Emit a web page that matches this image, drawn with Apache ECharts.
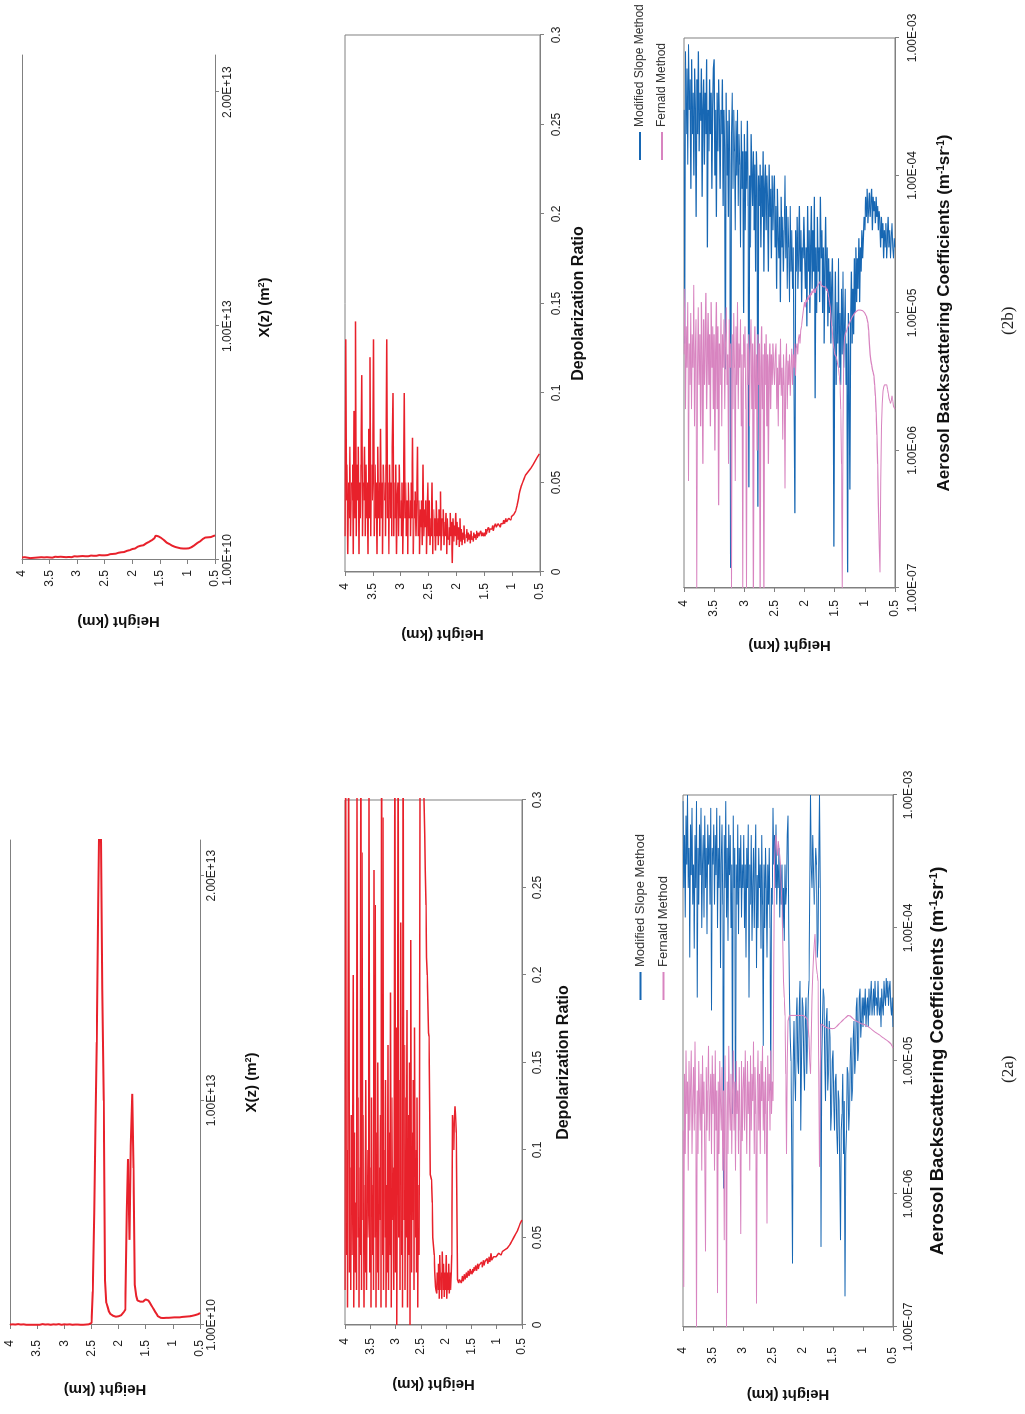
<!DOCTYPE html>
<html><head><meta charset="utf-8">
<script src="https://cdn.jsdelivr.net/npm/echarts/dist/echarts.min.js"></script>
<style>
html,body{margin:0;padding:0;background:#fff;overflow:hidden;width:1025px;height:1414px;}
#wrap{position:absolute;left:0;top:0;width:1414px;height:1025px;transform-origin:0 0;transform:translateY(1414px) rotate(-90deg);}
#chart{width:1414px;height:1025px;}
</style></head><body>
<div id="wrap"><div id="chart"></div></div>
<script>
// Heights (km) for the smooth X(z) profiles
const heights = [4,3.975,3.95,3.925,3.9,3.875,3.85,3.825,3.8,3.775,3.75,3.725,3.7,3.675,3.65,3.625,3.6,3.575,3.55,3.525,
3.5,3.475,3.45,3.425,3.4,3.375,3.35,3.325,3.3,3.275,3.25,3.225,3.2,3.175,3.15,3.125,3.1,3.075,3.05,3.025,
3,2.975,2.95,2.925,2.9,2.875,2.85,2.825,2.8,2.775,2.75,2.725,2.7,2.675,2.65,2.625,2.6,2.575,2.55,2.525,
2.5,2.475,2.45,2.425,2.4,2.375,2.35,2.325,2.3,2.275,2.25,2.225,2.2,2.175,2.15,2.125,2.1,2.075,2.05,2.025,
2,1.975,1.95,1.925,1.9,1.875,1.85,1.825,1.8,1.775,1.75,1.725,1.7,1.675,1.65,1.625,1.6,1.575,1.55,1.525,
1.5,1.475,1.45,1.425,1.4,1.375,1.35,1.325,1.3,1.275,1.25,1.225,1.2,1.175,1.15,1.125,1.1,1.075,1.05,1.025,
1,0.975,0.95,0.925,0.9,0.875,0.85,0.825,0.8,0.775,0.75,0.725,0.7,0.675,0.65,0.625,0.6,0.575,0.55,0.525,0.5];

// Heights (km) for the noisy profiles (depolarization, backscatter)
const heightsFine = [4,3.9875,3.975,3.9625,3.95,3.9375,3.925,3.9125,3.9,3.8875,3.875,3.8625,3.85,3.8375,3.825,3.8125,3.8,3.7875,3.775,3.7625,3.75,3.7375,3.725,3.7125,3.7,3.6875,3.675,3.6625,3.65,3.6375,3.625,3.6125,3.6,3.5875,3.575,3.5625,3.55,3.5375,3.525,3.5125,
3.5,3.4875,3.475,3.4625,3.45,3.4375,3.425,3.4125,3.4,3.3875,3.375,3.3625,3.35,3.3375,3.325,3.3125,3.3,3.2875,3.275,3.2625,3.25,3.2375,3.225,3.2125,3.2,3.1875,3.175,3.1625,3.15,3.1375,3.125,3.1125,3.1,3.0875,3.075,3.0625,3.05,3.0375,3.025,3.0125,
3,2.9875,2.975,2.9625,2.95,2.9375,2.925,2.9125,2.9,2.8875,2.875,2.8625,2.85,2.8375,2.825,2.8125,2.8,2.7875,2.775,2.7625,2.75,2.7375,2.725,2.7125,2.7,2.6875,2.675,2.6625,2.65,2.6375,2.625,2.6125,2.6,2.5875,2.575,2.5625,2.55,2.5375,2.525,2.5125,
2.5,2.4875,2.475,2.4625,2.45,2.4375,2.425,2.4125,2.4,2.3875,2.375,2.3625,2.35,2.3375,2.325,2.3125,2.3,2.2875,2.275,2.2625,2.25,2.2375,2.225,2.2125,2.2,2.1875,2.175,2.1625,2.15,2.1375,2.125,2.1125,2.1,2.0875,2.075,2.0625,2.05,2.0375,2.025,2.0125,
2,1.9875,1.975,1.9625,1.95,1.9375,1.925,1.9125,1.9,1.8875,1.875,1.8625,1.85,1.8375,1.825,1.8125,1.8,1.7875,1.775,1.7625,1.75,1.7375,1.725,1.7125,1.7,1.6875,1.675,1.6625,1.65,1.6375,1.625,1.6125,1.6,1.5875,1.575,1.5625,1.55,1.5375,1.525,1.5125,
1.5,1.4875,1.475,1.4625,1.45,1.4375,1.425,1.4125,1.4,1.3875,1.375,1.3625,1.35,1.3375,1.325,1.3125,1.3,1.2875,1.275,1.2625,1.25,1.2375,1.225,1.2125,1.2,1.1875,1.175,1.1625,1.15,1.1375,1.125,1.1125,1.1,1.0875,1.075,1.0625,1.05,1.0375,1.025,1.0125,
1,0.9875,0.975,0.9625,0.95,0.9375,0.925,0.9125,0.9,0.8875,0.875,0.8625,0.85,0.8375,0.825,0.8125,0.8,0.7875,0.775,0.7625,0.75,0.7375,0.725,0.7125,0.7,0.6875,0.675,0.6625,0.65,0.6375,0.625,0.6125,0.6,0.5875,0.575,0.5625,0.55,0.5375,0.525,0.5125,0.5];

// (2a) X(z) (m^2)
const xz2a = [3e10,2e10,4e10,2e10,3e10,2e10,5e10,2e10,3e10,2e10,4e10,3e10,2e10,3e10,2e10,4e10,2e10,3e10,2e10,3e10,
2e10,4e10,2e10,3e10,5e10,2e10,3e10,2e10,4e10,3e10,2e10,3e10,4e10,2e10,3e10,2e10,5e10,3e10,2e10,3e10,
4e10,2e10,3e10,2e10,4e10,3e10,2e10,5e10,3e10,2e10,3e10,4e10,2e10,3e10,2e10,4e10,3e10,5e10,4e10,6e10,
1e11,1.5e12,5e12,9e12,1.26e13,1.9e13,2.4e13,2.2e13,1.5e13,1.0e13,2e12,1.0e12,8e11,6e11,5e11,4.5e11,4.2e11,4e11,3.8e11,4e11,
4e11,4e11,4.5e11,5e11,6e11,7e11,5e12,7.4e12,3.8e12,8e12,1.03e13,7e12,1.8e12,1.3e12,1.1e12,1.05e12,1.05e12,1e12,1.05e12,1.1e12,
1.15e12,1.2e12,1.1e12,1e12,9e11,8e11,7e11,6e11,5e11,4e11,3.5e11,3.3e11,3.3e11,3.2e11,3.3e11,3.3e11,3.4e11,3.3e11,3.4e11,3.4e11,
3.4e11,3.5e11,3.4e11,3.5e11,3.6e11,3.5e11,3.6e11,3.7e11,3.6e11,3.8e11,3.8e11,3.9e11,4e11,4e11,4.2e11,4.3e11,4.5e11,4.6e11,4.8e11,5e11,5.5e11];

// (2b) X(z) (m^2)
const xz2b = [1.2e11,8e10,1.3e11,9e10,1.1e11,1.4e11,9e10,1.2e11,1e11,1.3e11,1.1e11,9e10,1.2e11,1e11,1.3e11,1.1e11,1.2e11,1e11,1.3e11,1.1e11,
1.2e11,1.4e11,1.1e11,1.3e11,1.5e11,1.2e11,1.4e11,1.3e11,1.5e11,1.2e11,1.4e11,1.6e11,1.3e11,1.5e11,1.4e11,1.6e11,1.3e11,1.5e11,1.7e11,1.5e11,
1.6e11,1.5e11,1.7e11,1.6e11,1.8e11,1.6e11,1.7e11,1.9e11,1.7e11,1.8e11,2e11,1.8e11,1.9e11,2.1e11,1.9e11,2e11,2.2e11,2e11,2.1e11,2.2e11,
2.1e11,2.3e11,2.2e11,2.5e11,2.6e11,2.5e11,2.7e11,2.9e11,2.8e11,3e11,3.2e11,3.1e11,3.4e11,3.6e11,3.5e11,3.8e11,4e11,4.1e11,4.3e11,4.6e11,
4.8e11,5.2e11,5e11,5.5e11,5.8e11,5.7e11,6.2e11,6.5e11,6.4e11,7e11,7.2e11,7.6e11,7.8e11,8.3e11,8.5e11,9e11,9.4e11,1.05e12,1.12e12,1.02e12,
9.8e11,9.5e11,9.2e11,8.6e11,8e11,7.5e11,7.2e11,6.9e11,6.6e11,6.2e11,6e11,5.7e11,5.5e11,5.4e11,5.2e11,5.1e11,5e11,5e11,5e11,5e11,
5e11,5.1e11,5.3e11,5.6e11,6e11,6.4e11,6.8e11,7.3e11,7.6e11,8e11,8.5e11,9e11,9.5e11,9.7e11,9.6e11,9.8e11,9.9e11,9.9e11,1.02e12,1.04e12,1.06e12];

// (2a) depolarization ratio (heightsFine)
const depol2a = [0.02,0.34,0.04,0.1,0.01,0.22,0.34,0.03,0.09,0.02,0.12,0.04,0.08,0.2,0.01,0.11,0.03,0.07,0.02,0.34,0.05,0.13,0.01,0.09,0.04,0.34,0.02,0.27,0.06,0.12,0.01,0.08,0.03,0.14,0.02,0.1,0.05,0.07,0.34,0.03,
0.09,0.01,0.13,0.04,0.08,0.02,0.26,0.05,0.24,0.01,0.11,0.03,0.15,0.02,0.09,0.06,0.12,0.01,0.34,0.04,0.29,0.02,0.1,0.05,0.14,0.01,0.08,0.03,0.16,0.02,0.11,0.04,0.19,0.01,0.13,0.06,0.09,0.02,0.12,0.34,
0.03,0.17,0.0,0.12,0.34,0.05,0.14,0.02,0.23,0.04,0.1,0.01,0.34,0.06,0.16,0.02,0.13,0.05,0.18,0.01,0.12,0.04,0.15,0.0,0.22,0.03,0.11,0.06,0.14,0.02,0.17,0.05,0.1,0.03,0.13,0.01,0.08,0.04,0.12,0.34,
0.34,0.34,0.34,0.34,0.32,0.3,0.28,0.26,0.24,0.21,0.2,0.2,0.167,0.165,0.12,0.086,0.085,0.083,0.07,0.05,0.045,0.04,0.03,0.022,0.02,0.018,0.03,0.02,0.035,0.015,0.04,0.02,0.03,0.015,0.042,0.02,0.035,0.016,0.03,0.02,
0.04,0.015,0.03,0.02,0.035,0.018,0.03,0.02,0.03,0.04,0.12,0.115,0.1,0.115,0.125,0.12,0.11,0.06,0.026,0.025,0.024,0.026,0.025,0.027,0.024,0.026,0.028,0.025,0.027,0.029,0.026,0.028,0.03,0.027,0.029,0.031,0.028,0.03,0.032,0.029,
0.031,0.029,0.032,0.03,0.033,0.031,0.032,0.034,0.031,0.033,0.035,0.032,0.034,0.033,0.035,0.034,0.036,0.033,0.035,0.037,0.034,0.036,0.035,0.037,0.036,0.038,0.035,0.037,0.039,0.036,0.038,0.041,0.037,0.038,0.037,0.039,0.038,0.04,0.038,0.039,
0.039,0.04,0.039,0.041,0.04,0.04,0.041,0.04,0.041,0.042,0.041,0.042,0.042,0.043,0.042,0.043,0.043,0.044,0.044,0.045,0.045,0.046,0.046,0.047,0.048,0.048,0.049,0.05,0.05,0.051,0.052,0.053,0.053,0.054,0.055,0.056,0.057,0.058,0.058,0.059,0.06];

// (2b) depolarization ratio (heightsFine)
const depol2b = [0.02,0.13,0.04,0.06,0.01,0.05,0.03,0.07,0.02,0.05,0.04,0.06,0.01,0.09,0.03,0.14,0.02,0.06,0.04,0.07,0.01,0.05,0.03,0.06,0.11,0.02,0.05,0.04,0.07,0.02,0.06,0.03,0.05,0.01,0.08,0.03,0.12,0.02,0.06,0.04,
0.05,0.13,0.02,0.06,0.03,0.05,0.01,0.07,0.03,0.05,0.02,0.08,0.03,0.05,0.01,0.06,0.04,0.05,0.02,0.06,0.13,0.03,0.05,0.01,0.06,0.03,0.05,0.02,0.07,0.1,0.02,0.05,0.03,0.06,0.01,0.04,0.05,0.02,0.06,0.03,
0.04,0.02,0.05,0.01,0.04,0.1,0.03,0.05,0.02,0.04,0.01,0.05,0.03,0.04,0.02,0.05,0.03,0.075,0.01,0.04,0.03,0.045,0.02,0.04,0.07,0.02,0.04,0.01,0.035,0.025,0.04,0.015,0.06,0.02,0.035,0.025,0.04,0.01,0.035,0.05,
0.02,0.04,0.015,0.03,0.02,0.05,0.01,0.035,0.02,0.03,0.012,0.04,0.02,0.03,0.015,0.035,0.02,0.045,0.012,0.03,0.02,0.035,0.015,0.028,0.02,0.033,0.01,0.03,0.018,0.025,0.015,0.033,0.02,0.028,0.005,0.03,0.017,0.026,0.02,0.033,
0.015,0.028,0.018,0.025,0.014,0.03,0.017,0.024,0.015,0.022,0.018,0.026,0.016,0.021,0.019,0.024,0.017,0.022,0.018,0.021,0.016,0.023,0.018,0.02,0.017,0.022,0.019,0.021,0.018,0.023,0.019,0.022,0.02,0.021,0.019,0.023,0.02,0.022,0.021,0.02,
0.022,0.02,0.024,0.021,0.023,0.022,0.025,0.022,0.024,0.023,0.025,0.024,0.026,0.023,0.025,0.024,0.027,0.025,0.026,0.025,0.027,0.026,0.028,0.025,0.027,0.026,0.028,0.027,0.029,0.027,0.028,0.03,0.028,0.029,0.028,0.03,0.029,0.03,0.029,0.031,
0.031,0.031,0.032,0.032,0.033,0.034,0.035,0.037,0.039,0.041,0.043,0.045,0.046,0.048,0.049,0.05,0.051,0.052,0.053,0.054,0.054,0.055,0.055,0.056,0.056,0.057,0.057,0.058,0.058,0.059,0.06,0.06,0.061,0.062,0.062,0.063,0.064,0.064,0.065,0.066,0.066];

// (2a) aerosol backscattering coefficients, m^-1 sr^-1 (heightsFine)
const slope2a = [9e-4,2e-4,5e-4,1.2e-4,7e-4,3e-4,1e-3,2e-4,4e-4,6e-5,6e-4,2.5e-4,8e-4,1.5e-4,3e-4,7e-5,5e-4,2e-4,9e-4,3e-5,4e-4,1.5e-4,6e-4,2.5e-4,8e-4,1e-4,3e-4,5e-4,1.2e-4,7e-4,2e-4,4e-4,9e-5,6e-4,3e-4,5e-4,1.5e-4,8e-4,2.4e-5,4e-4,
3e-4,6e-4,1.5e-4,5e-4,2.5e-4,8e-4,1e-4,4e-4,2e-4,7e-4,5e-5,3e-4,6e-4,1.5e-4,1.1e-6,5e-4,2e-4,9e-4,1.2e-4,4e-4,8e-5,6e-4,2.5e-4,5e-4,1e-4,3e-4,4e-6,7e-4,2e-4,4e-4,2.1e-6,3e-4,1.5e-4,6e-4,9e-5,4e-4,2e-4,5e-4,1.2e-4,3e-4,
2e-4,5e-4,1e-4,3e-4,6e-5,4e-4,2e-4,6e-4,3e-5,3e-4,1.5e-4,5e-4,8e-5,2e-4,4e-4,1e-4,3e-4,6e-4,5e-5,2.5e-4,1e-4,4e-4,2e-4,3e-4,7e-5,5e-4,1.5e-4,1.3e-5,3e-4,1e-4,4e-4,2e-4,6e-5,3e-4,1.5e-4,4e-4,1e-4,6e-6,2e-4,1.5e-4,
8e-4,3e-4,5e-4,2e-4,6e-4,1.5e-4,3e-4,2e-4,4e-4,1.2e-4,3e-4,1.5e-4,3e-4,1e-4,2e-4,8e-5,3e-4,1.5e-4,2e-4,5e-4,7e-4,1e-4,3e-5,1.5e-5,1e-5,2e-6,3e-7,1e-5,2e-5,8e-6,5e-6,2e-5,3e-5,1e-5,8e-6,2.5e-5,4e-5,3e-6,1e-5,3e-5,
2.5e-5,1e-5,6e-6,2e-5,3e-5,8e-6,1.2e-5,3e-5,4e-5,2e-4,1e-3,3e-4,2e-4,5e-4,5e-4,1.5e-4,1.5e-4,4e-4,3e-4,6e-5,8e-5,3e-4,1e-3,2e-4,4e-7,1e-5,2e-5,3.5e-5,3e-5,1e-5,5e-6,2e-5,2.5e-5,6e-6,8e-6,2e-5,1.5e-5,3e-6,4e-6,1e-5,
1.2e-5,5e-6,3e-6,7e-6,8e-6,3e-6,2e-6,6e-6,5e-6,1.5e-6,4.5e-7,3e-6,4e-6,8e-6,2e-6,5e-6,1.7e-7,2e-6,3e-6,9e-6,8e-6,3e-6,4e-6,1e-5,1.5e-5,5e-6,6e-6,1.5e-5,2e-5,8e-6,1e-5,2.5e-5,3e-5,1e-5,1.2e-5,3e-5,3.5e-5,1.5e-5,2e-5,3e-5,
1.8e-5,3e-5,2.2e-5,3.5e-5,1.8e-5,2.6e-5,3e-5,1.8e-5,3.5e-5,2.2e-5,3e-5,4e-5,2.2e-5,2.6e-5,3.5e-5,2.2e-5,4e-5,2.6e-5,3e-5,2.2e-5,4e-5,2.6e-5,2.2e-5,3e-5,1.8e-5,3.5e-5,2.6e-5,2.2e-5,4e-5,3e-5,2.6e-5,4.2e-5,3e-5,4e-5,2.6e-5,3.5e-5,4e-5,2.6e-5,2.2e-5,3e-5,1.8e-5];
const fernald2a = [3e-6,2e-7,8e-6,2e-6,1.2e-5,4e-6,7e-6,1.5e-6,1e-5,3e-6,6e-6,1.2e-5,2e-6,5e-6,9e-6,3e-6,1.4e-5,4e-6,1e-7,6e-6,2e-6,1e-5,5e-6,3e-6,8e-6,1.5e-6,1.1e-5,4e-6,7e-6,2e-6,3.7e-7,9e-6,3e-6,6e-6,1.3e-5,2.5e-6,5e-6,8e-6,2e-6,1.1e-5,
4e-6,8e-6,1.5e-6,1.2e-5,3e-6,6e-6,1.8e-7,7e-6,2e-6,1e-5,5e-6,3e-6,9e-6,1.5e-6,6e-6,4.5e-7,1.1e-5,4e-6,1e-7,7e-6,2e-6,1.3e-5,5e-6,3e-6,8e-6,2e-6,6e-6,1.2e-5,3e-6,7e-6,1.5e-6,1e-5,4e-6,6e-6,2e-6,9e-6,3e-6,5e-7,1e-5,2.5e-6,
6e-6,9e-6,3e-6,1.2e-5,5e-6,2e-6,1e-5,4e-6,7e-6,1.5e-6,1.1e-5,3e-6,8e-6,5e-6,1.4e-5,2e-6,9e-6,4e-6,1.5e-7,6e-6,1.2e-5,3e-6,8e-6,2e-6,1e-5,5e-6,1.3e-5,3e-6,7e-6,2e-6,9e-6,4e-6,6e-7,1.1e-5,5e-6,8e-6,3e-6,1.2e-5,4e-6,7e-6,
5e-6,5e-5,3e-4,4.5e-4,5e-4,4e-4,3.5e-4,4.5e-4,4e-4,3.5e-4,3e-4,2e-4,1.5e-4,8e-5,4e-5,3e-5,2.2e-5,8e-6,2e-6,1e-5,2e-5,2.1e-5,2.2e-5,2.2e-5,2.2e-5,2.2e-5,2.2e-5,2.2e-5,2.2e-5,2.2e-5,2.2e-5,2.2e-5,2.2e-5,2.2e-5,2.2e-5,2.2e-5,2.2e-5,2.2e-5,2.2e-5,2.2e-5,
2.2e-5,2.2e-5,2.2e-5,2.15e-5,2.1e-5,2.1e-5,2.05e-5,2e-5,1.5e-5,1e-5,8e-6,1.5e-5,3e-5,4.5e-5,6e-5,7.5e-5,9e-5,6e-5,5e-5,4.5e-5,4e-5,8e-6,1.6e-6,8e-6,1.9e-5,1.9e-5,1.85e-5,1.85e-5,1.8e-5,1.8e-5,1.8e-5,1.78e-5,1.78e-5,1.77e-5,1.77e-5,1.76e-5,1.76e-5,1.75e-5,1.75e-5,1.75e-5,
1.75e-5,1.75e-5,1.76e-5,1.78e-5,1.8e-5,1.82e-5,1.85e-5,1.87e-5,1.9e-5,1.92e-5,1.95e-5,1.97e-5,2e-5,2.02e-5,2.05e-5,2.08e-5,2.1e-5,2.12e-5,2.15e-5,2.18e-5,2.2e-5,2.2e-5,2.2e-5,2.18e-5,2.15e-5,2.12e-5,2.1e-5,2.08e-5,2.05e-5,2.03e-5,2e-5,2e-5,1.98e-5,1.97e-5,1.95e-5,1.95e-5,1.93e-5,1.92e-5,1.9e-5,1.9e-5,
1.9e-5,1.89e-5,1.88e-5,1.86e-5,1.85e-5,1.84e-5,1.82e-5,1.81e-5,1.8e-5,1.78e-5,1.76e-5,1.74e-5,1.72e-5,1.7e-5,1.68e-5,1.67e-5,1.65e-5,1.64e-5,1.62e-5,1.61e-5,1.6e-5,1.58e-5,1.57e-5,1.55e-5,1.54e-5,1.52e-5,1.5e-5,1.49e-5,1.48e-5,1.46e-5,1.45e-5,1.44e-5,1.42e-5,1.41e-5,1.4e-5,1.38e-5,1.37e-5,1.35e-5,1.32e-5,1.29e-5,1.25e-5];

// (2b) aerosol backscattering coefficients, m^-1 sr^-1 (heightsFine)
const slope2b = [3e-4,6e-6,8e-4,2e-4,6e-4,1.2e-4,9e-4,3e-4,5e-4,8e-5,7e-4,2e-4,4e-4,1e-4,6e-4,3e-4,5e-5,5e-4,2e-4,8e-4,1.5e-4,4e-4,2.5e-4,6e-4,7e-5,3e-4,5e-4,1.2e-4,4e-4,2e-4,7e-4,3e-5,3e-4,1.5e-4,5e-4,2e-4,4e-4,8e-5,3e-4,6e-4,
7e-4,1e-4,3e-4,5e-5,4e-4,1.5e-4,5e-4,2.5e-4,8e-5,3e-4,2e-4,5e-4,6e-5,3e-4,1.5e-4,3.9e-6,4e-4,1e-4,2.5e-4,5e-5,3e-4,1.2e-4,1.4e-7,2e-4,4e-4,8e-5,3e-4,1.5e-4,4e-5,2.5e-4,1e-4,3e-4,6e-5,2e-4,1.2e-4,3e-5,2.5e-4,8e-5,1.5e-4,1e-5,
2e-4,4e-5,1.5e-4,8e-5,2.5e-4,6e-5,5.4e-7,1e-4,3e-5,2e-4,1e-4,6e-5,1.5e-4,4e-5,1.2e-4,2e-5,1.5e-4,8e-5,3.9e-7,1e-4,6e-5,1.2e-4,3e-5,1e-4,5e-5,1.5e-4,2e-5,8e-5,1.2e-4,4e-5,1e-4,6e-5,2e-5,1.2e-4,5e-5,8e-5,2.5e-5,1e-4,4e-5,7e-5,
1e-4,3e-5,6e-5,1.5e-5,8e-5,4e-5,2.5e-5,5e-5,1.2e-5,7e-5,3e-5,5e-5,2e-5,4e-5,1e-4,2.5e-5,6e-5,1.5e-5,5e-5,3e-5,1.2e-5,6e-5,2e-5,4e-5,1.5e-5,3e-5,2.7e-6,3.5e-7,4e-5,2e-5,5e-5,1.5e-5,3e-5,6e-5,2e-5,4e-5,1.2e-5,3e-5,2.5e-5,5e-5,
5e-5,1.5e-5,3e-5,8e-6,6e-5,2e-5,4e-5,1e-5,3e-5,6e-5,1.5e-5,4e-5,2e-5,7e-5,2.4e-6,3e-5,1e-5,5e-5,2e-5,3e-5,1.2e-5,7e-5,2.5e-5,4e-5,1e-5,3e-5,6e-6,2e-5,5e-5,1.5e-5,3e-5,8e-6,2.5e-5,1e-5,2e-5,6e-6,1.5e-5,2.5e-5,8e-6,2e-7,
5e-6,2e-5,3e-6,1.2e-5,6e-6,2.5e-5,4e-6,1e-5,3e-6,1.5e-5,5e-6,2e-5,4e-6,8e-6,1.5e-5,3e-6,6e-6,1.3e-7,1e-5,4e-6,5.2e-7,8e-6,2e-5,6e-6,1.5e-5,7e-6,2.5e-5,1e-5,3e-5,1.2e-5,2.5e-5,1.5e-5,3.5e-5,1.2e-5,3e-5,2e-5,4e-5,2.5e-5,3.5e-5,5e-5,
4e-5,7e-5,5e-5,8e-5,4.5e-5,6e-5,7.5e-5,5e-5,6.5e-5,8e-5,4e-5,7e-5,5.5e-5,6.5e-5,4.5e-5,7e-5,5e-5,6e-5,4e-5,5.5e-5,4.5e-5,3e-5,5e-5,3.5e-5,4.5e-5,2.5e-5,4e-5,3e-5,4.5e-5,2.5e-5,3.5e-5,5e-5,3e-5,4e-5,2.5e-5,3.5e-5,4.5e-5,3e-5,2.5e-5,3.5e-5,3e-5];
const fernald2b = [5e-6,1.5e-5,2e-6,8e-6,4e-6,1.2e-5,6e-7,6e-6,3e-6,1e-5,2e-6,7e-6,4e-6,1.6e-5,1.5e-6,5e-6,9e-6,1e-7,4e-6,1.1e-5,3e-6,7e-6,1.5e-6,1.2e-5,4e-6,8e-7,9e-6,3e-6,6e-6,1.4e-5,2e-6,5e-6,1e-5,3e-6,7e-6,1.5e-6,1.2e-5,4e-6,8e-6,2e-6,
7e-6,1e-6,5e-6,1.2e-5,2e-6,8e-6,4e-7,6e-6,3e-6,1e-5,1.5e-6,7e-6,4e-6,9e-6,2e-6,6e-6,1.1e-5,3e-6,5e-6,8e-7,9e-6,4e-6,6e-6,1e-7,7e-6,2e-6,1e-5,4e-6,6e-7,8e-6,3e-6,1.2e-5,2e-6,6e-6,4e-6,9e-6,1.5e-6,5e-6,1e-7,7e-6,
4e-6,8e-6,2e-6,1e-7,6e-6,3e-6,7e-6,1.5e-6,5e-6,9e-6,2e-6,6e-6,1e-7,4e-6,8e-6,2e-6,5e-6,1e-6,7e-6,3e-6,6e-6,1e-7,4e-6,8e-6,2e-6,5e-6,1e-7,6e-6,3e-6,7e-6,1.5e-6,5e-6,8e-7,4e-6,6e-6,2e-6,5e-6,3e-6,6e-6,4e-6,
3e-6,5e-6,6e-6,2e-6,4e-6,1.5e-6,5e-6,3e-6,6.5e-6,2.5e-6,4e-6,1.2e-6,5e-6,3e-6,5.3e-7,4e-6,6e-6,2e-6,4.5e-6,3e-6,5e-6,2.5e-6,4e-6,5.5e-6,3e-6,5e-6,4e-6,6e-6,3.5e-6,5.5e-6,6e-6,5e-6,6.5e-6,7e-6,6e-6,7.5e-6,8e-6,9e-6,1e-5,1.1e-5,
1.2e-5,1.1e-5,1.25e-5,1.2e-5,1.3e-5,1.25e-5,1.35e-5,1.3e-5,1.4e-5,1.35e-5,1.45e-5,1.4e-5,1.5e-5,1.45e-5,1.4e-5,1.5e-5,1.55e-5,1.5e-5,1.6e-5,1.55e-5,1.65e-5,1.7e-5,1.6e-5,1.65e-5,1.6e-5,1.55e-5,1.6e-5,1.5e-5,1.55e-5,1.45e-5,1.5e-5,1.4e-5,1.3e-5,1.2e-5,1.1e-5,9e-6,8e-6,7e-6,6e-6,5.5e-6,
5e-6,5e-6,4.8e-6,4.5e-6,4.2e-6,4e-6,3.5e-6,3e-6,2e-6,8e-7,1e-7,1.5e-6,5e-6,6.6e-6,7e-6,7.2e-6,7.5e-6,7.8e-6,8e-6,8.3e-6,8.5e-6,8.8e-6,9e-6,9.3e-6,9.5e-6,9.7e-6,1e-5,1e-5,1.02e-5,1.03e-5,1.04e-5,1.05e-5,1.05e-5,1.05e-5,1.05e-5,1.05e-5,1.04e-5,1.04e-5,1.03e-5,1.02e-5,
1e-5,9.8e-6,9.5e-6,9e-6,8.5e-6,7.5e-6,6e-6,5e-6,4.5e-6,4.2e-6,3.9e-6,3.7e-6,3.5e-6,3e-6,2.5e-6,1.9e-6,1.3e-6,8e-7,4e-7,2e-7,1.3e-7,6e-7,1.5e-6,2.2e-6,2.7e-6,2.9e-6,3e-6,3.1e-6,3.1e-6,3e-6,2.8e-6,2.6e-6,2.4e-6,2.3e-6,2.2e-6,2.3e-6,2.5e-6,2.3e-6,2.1e-6,2.05e-6,2e-6];

const seriesNames = ['Modified Slope Method', 'Fernald Method'];
const captions = ['(2a)', '(2b)'];

const FONT = '"Liberation Sans", Arial, Helvetica, sans-serif';
const SERIF = '"Liberation Serif", "Times New Roman", serif';
const AX = '#808080';
const RED = '#e8212b', BLUE = '#1767b3', PINK = '#d884c0';

function fmtE(v) {
  const s = Number(v).toExponential(2).split('e');
  return s[0] + 'E' + s[1][0] + s[1].slice(1).padStart(2, '0');
}
function pairs(vals, hs) { return vals.map((v, i) => [v, hs[i]]); }

// panel layout in the un-rotated (landscape) figure frame
const panels = [
  {grid:{left:89, top:10, width:485, height:190}, box:false, kind:'xz', yGap:57, yMargin:15, xGap:44, xMargin:6, xNameSize:15},
  {grid:{left:89, top:345, width:525, height:177}, box:true, kind:'dep', yGap:52, yMargin:13, xGap:34, xMargin:10, xNameSize:16},
  {grid:{left:87, top:683, width:532, height:210}, box:true, kind:'bs', yGap:60, yMargin:20, xGap:35, xMargin:10, xNameSize:18.5},
  {grid:{left:854, top:22, width:505, height:193}, box:false, kind:'xz', yGap:54, yMargin:10, xGap:42, xMargin:7, xNameSize:15},
  {grid:{left:842, top:345, width:537, height:195}, box:true, kind:'dep', yGap:55, yMargin:11, xGap:31, xMargin:11, xNameSize:16},
  {grid:{left:826, top:684, width:550, height:211}, box:true, kind:'bs', yGap:50, yMargin:12, xGap:41, xMargin:12, xNameSize:17}
];

const grids = [], xAxes = [], yAxes = [], series = [];
panels.forEach((p, g) => {
  grids.push(Object.assign({show:p.box, borderColor:AX, borderWidth:1, containLabel:false, outerBoundsMode:'none'}, p.grid));
  const ax = {
    gridIndex:g, position:'bottom', nameLocation:'middle', nameGap:p.xGap,
    axisLine:{show:true, onZero:false, lineStyle:{color:AX, width:1}},
    axisTick:{show:true, length:4, lineStyle:{color:AX}},
    axisLabel:{fontFamily:FONT, fontSize:12, color:'#222', margin:p.xMargin},
    splitLine:{show:false}
  };
  const sz = p.xNameSize;
  const rich = {a:{fontFamily:FONT, fontWeight:'bold', fontSize:sz, color:'#111'},
                s:{fontFamily:FONT, fontWeight:'bold', fontSize:Math.round(sz*0.6), color:'#111', verticalAlign:'top'}};
  if (p.kind === 'xz') {
    Object.assign(ax, {type:'value', min:1e10, max:2.16e13, interval:1e13,
      name:'{a|X(z) (m}{s|2}{a|)}', nameTextStyle:{rich}});
    ax.axisLabel.formatter = fmtE; ax.axisLabel.showMaxLabel = false;
  } else if (p.kind === 'dep') {
    Object.assign(ax, {type:'value', min:0, max:0.3, interval:0.05,
      name:'{a|Depolarization Ratio}', nameTextStyle:{rich}});
  } else {
    Object.assign(ax, {type:'log', logBase:10, min:1e-7, max:1e-3,
      name:'{a|Aerosol Backscattering Coefficients (m}{s|-1}{a|sr}{s|-1}{a|)}', nameTextStyle:{rich}});
    ax.axisLabel.formatter = fmtE;
  }
  xAxes.push(ax);
  yAxes.push({
    gridIndex:g, type:'value', min:0.5, max:4, interval:0.5, position:'left',
    name:'Height (km)', nameLocation:'middle', nameGap:p.yGap,
    nameTextStyle:{fontFamily:FONT, fontWeight:'bold', fontSize:15, color:'#111'},
    axisLine:{show:true, onZero:false, lineStyle:{color:AX, width:1}},
    axisTick:{show:true, length:4, lineStyle:{color:AX}},
    axisLabel:{fontFamily:FONT, fontSize:12, color:'#222', margin:p.yMargin},
    splitLine:{show:false}
  });
});
// top frame line of the X(z) panels
[0, 3].forEach(g => {
  xAxes.push({gridIndex:g, type:'value', position:'top', min:1e10, max:2.16e13,
    axisLine:{show:true, onZero:false, lineStyle:{color:AX, width:1}},
    axisTick:{show:false}, axisLabel:{show:false}, splitLine:{show:false}});
});

function line(name, g, vals, hs, color, width, z) {
  return {name, type:'line', xAxisIndex:g, yAxisIndex:g, data:pairs(vals, hs),
    showSymbol:false, symbol:'none', clip:true, z,
    lineStyle:{color, width}, itemStyle:{color}};
}
series.push(line('X(z) 2a', 0, xz2a, heights, RED, 2, 2));
series.push(line('Depol 2a', 1, depol2a, heightsFine, RED, 1.5, 2));
series.push(line(seriesNames[0], 2, slope2a, heightsFine, BLUE, 1.2, 2));
series.push(line(seriesNames[1], 2, fernald2a, heightsFine, PINK, 1.1, 3));
series.push(line('X(z) 2b', 3, xz2b, heights, RED, 2, 2));
series.push(line('Depol 2b', 4, depol2b, heightsFine, RED, 1.5, 2));
series.push(line(seriesNames[0], 5, slope2b, heightsFine, BLUE, 1.2, 2));
series.push(line(seriesNames[1], 5, fernald2b, heightsFine, PINK, 1.1, 3));

function legendAt(left, top, fs) {
  return {left, top, orient:'vertical', icon:'rect', itemWidth:28, itemHeight:2, itemGap:10,
    selectedMode:false, data:seriesNames, textStyle:{fontFamily:FONT, fontSize:fs, color:'#333'}};
}

const option = {
  animation:false,
  backgroundColor:'#fff',
  grid:grids, xAxis:xAxes, yAxis:yAxes, series,
  legend:[legendAt(409, 629, 13), legendAt(1249, 629, 12)],
  title:[
    {text:captions[0], left:331, top:1000, padding:0, textStyle:{fontFamily:SERIF, fontSize:17, fontWeight:'normal', color:'#222'}},
    {text:captions[1], left:1079, top:1000, padding:0, textStyle:{fontFamily:SERIF, fontSize:17, fontWeight:'normal', color:'#222'}}
  ]
};
const chart = echarts.init(document.getElementById('chart'), null, {renderer:'canvas'});
chart.setOption(option);
</script>
</body></html>
